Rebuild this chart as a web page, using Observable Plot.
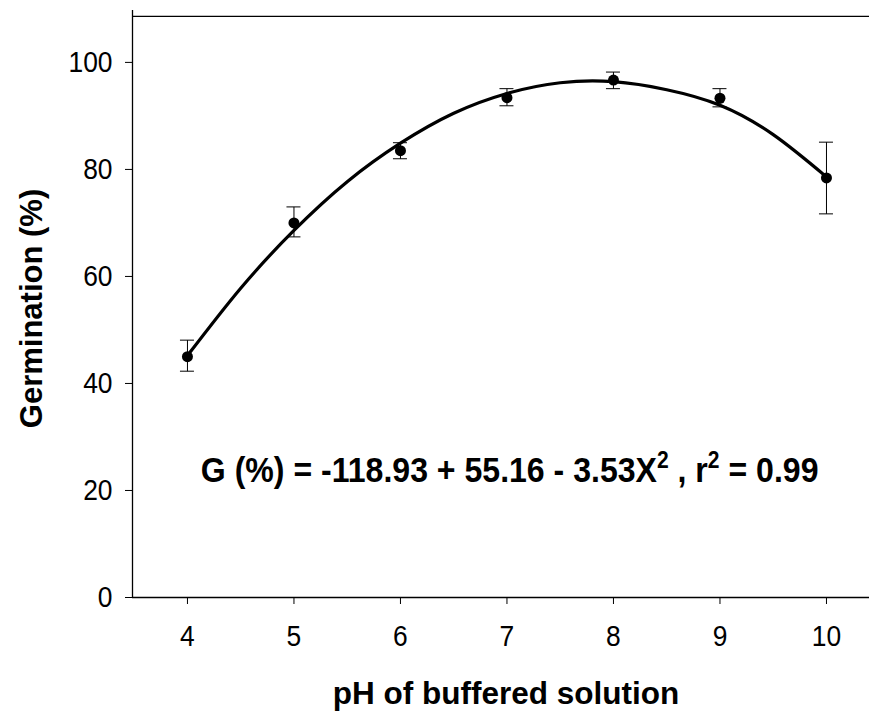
<!DOCTYPE html>
<html>
<head>
<meta charset="utf-8">
<script src="https://cdn.jsdelivr.net/npm/d3@7"></script>
<script src="https://cdn.jsdelivr.net/npm/@observablehq/plot@0.6"></script>
<style>
  body { margin: 0; background: #fff; }
  #chart { width: 869px; height: 711px; }
</style>
</head>
<body>
<div id="chart"></div>
<script>
// Observed germination
const ph = [4, 5, 6, 7, 8, 9, 10];
const germ = [45.0, 70.0, 83.5, 93.4, 96.7, 93.3, 78.4];
const errLow = [42.2, 67.3, 81.9, 91.8, 95.0, 91.6, 71.6];
const errHigh = [48.0, 72.9, 84.9, 95.0, 98.1, 95.0, 85.0];

// Fitted curve
const fitX = [4, 4.5, 5, 5.5, 6, 6.5, 7, 7.5, 8, 8.5, 9, 9.5, 10];
const fitY = [45.2, 57.8, 68.6, 77.7, 84.9, 90.5, 94.2, 96.2, 96.4, 94.9, 92.0, 86.5, 78.6];

const xTicks = [4, 5, 6, 7, 8, 9, 10];
const yTicks = [0, 20, 40, 60, 80, 100];

const points = ph.map((x, i) => ({x, y: germ[i], lo: errLow[i], hi: errHigh[i]}));
const fit = fitX.map((x, i) => ({x, y: fitY[i]}));

const font = "'Liberation Sans', Arial, sans-serif";
const xDom = [3.484, 10.404];
const yDom = [0, 109.7];

const plot = Plot.plot({
  width: 869,
  height: 711,
  marginLeft: 132,
  marginRight: 0,
  marginTop: 10,
  marginBottom: 114,
  style: {fontFamily: font, color: "#000", background: "#fff"},
  x: {type: "linear", domain: xDom, label: null},
  y: {type: "linear", domain: yDom, label: null},
  marks: [
    Plot.axisX({ticks: xTicks, tickFormat: d => String(d), tickSize: 7, tickPadding: 20, fontSize: 30, label: null}),
    Plot.axisY({ticks: yTicks, tickFormat: d => String(d), tickSize: 7, tickPadding: 13, fontSize: 30, label: null}),
    Plot.ruleX([xDom[0]], {y1: yDom[0], y2: yDom[1], stroke: "#000", strokeWidth: 1.3}),
    Plot.ruleY([0], {x1: xDom[0], x2: xDom[1], stroke: "#000", strokeWidth: 1.3}),
    Plot.ruleY([108.6], {x1: xDom[0], x2: xDom[1], stroke: "#000", strokeWidth: 1.3}),
    Plot.ruleX(points, {x: "x", y1: "lo", y2: "hi", stroke: "#000", strokeWidth: 1}),
    Plot.line(fit, {x: "x", y: "y", curve: "natural", stroke: "#000", strokeWidth: 3.2}),
    Plot.dot(points, {x: "x", y: "y", r: 5.5, fill: "#000", stroke: "none"})
  ]
});

document.getElementById("chart").appendChild(plot);

const svg = d3.select(plot);
const sx = plot.scale("x"), sy = plot.scale("y");

// Slightly condensed tick labels, as in the reference
svg.selectAll("g[aria-label='x-axis tick label'] text, g[aria-label='y-axis tick label'] text")
  .attr("transform", function () { return (this.getAttribute("transform") || "") + " scale(0.88,1)"; });

// Error bar caps
const capHalf = 7;
points.forEach(p => {
  [p.lo, p.hi].forEach(v => {
    svg.append("line")
      .attr("x1", sx.apply(p.x) - capHalf).attr("x2", sx.apply(p.x) + capHalf)
      .attr("y1", sy.apply(v)).attr("y2", sy.apply(v))
      .attr("stroke", "#000").attr("stroke-width", 1);
  });
});

// Axis titles
svg.append("text")
  .attr("x", 506).attr("y", 704)
  .attr("text-anchor", "middle")
  .attr("font-family", font).attr("font-size", 31.5).attr("font-weight", "bold")
  .text("pH of buffered solution");

svg.append("text")
  .attr("transform", `translate(42, ${sy.apply(yDom[1] / 2) + 5}) rotate(-90)`)
  .attr("text-anchor", "middle")
  .attr("font-family", font).attr("font-size", 31).attr("font-weight", "bold")
  .text("Germination (%)");

// Equation (condensed horizontally like the reference)
const eqX = sx.apply(7.03), eqY = sy.apply(21.4);
const eqG = svg.append("g");
const eq = eqG.append("text")
  .attr("text-anchor", "middle")
  .attr("font-family", font)
  .attr("font-size", 35).attr("font-weight", "bold");
eq.append("tspan").text("G (%) = -118.93 + 55.16 - 3.53X");
eq.append("tspan").attr("dy", -14).attr("font-size", 23).text("2");
eq.append("tspan").attr("dy", 14).text(" , r");
eq.append("tspan").attr("dy", -14).attr("font-size", 23).text("2");
eq.append("tspan").attr("dy", 14).text(" = 0.99");
const eqW = eq.node().getComputedTextLength() || 700;
eqG.attr("transform", `translate(${eqX},${eqY}) scale(${618 / eqW},1)`);
</script>
</body>
</html>
